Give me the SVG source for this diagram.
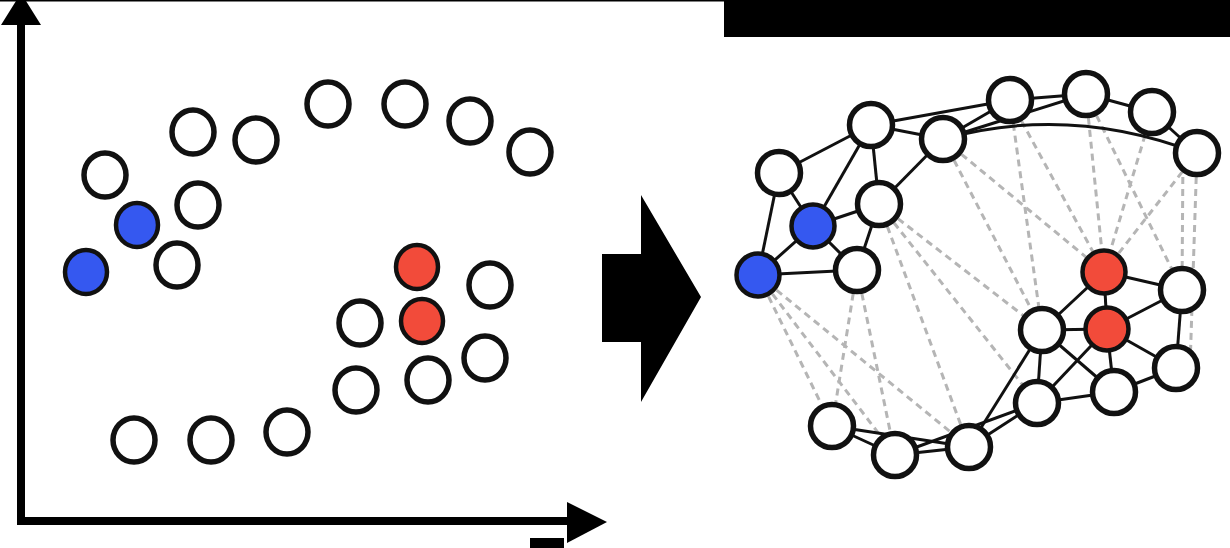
<svg xmlns="http://www.w3.org/2000/svg" width="1230" height="548" viewBox="0 0 1230 548">
<style>
.n{fill:#fff;stroke:#111;stroke-width:5.5}
.b{fill:#3558F0;stroke:#111;stroke-width:4.5}
.r{fill:#F24B3A;stroke:#111;stroke-width:4.5}
.e{stroke:#111;stroke-width:3;fill:none}
.d{stroke:#b5b5b5;stroke-width:3;stroke-dasharray:7 5;fill:none}
</style>
<rect width="1230" height="548" fill="#fff"/>
<line x1="0" y1="0.8" x2="724" y2="0.8" stroke="#000" stroke-width="1.6"/>
<rect x="724" y="0" width="506" height="37" fill="#000"/>
<rect x="530" y="538" width="34" height="10" fill="#000"/>
<g id="axes">
<line x1="21" y1="20" x2="21" y2="525" stroke="#000" stroke-width="8"/>
<line x1="17" y1="521" x2="572" y2="521" stroke="#000" stroke-width="8"/>
<polygon points="1,25 41,25 21,-7" fill="#000"/>
<polygon points="567,502 567,543 607,522" fill="#000"/>
</g>
<g id="scatter">
<g id="p1"><ellipse class="n" cx="105" cy="175" rx="21" ry="22"/></g>
<g id="p2"><ellipse class="n" cx="193" cy="132" rx="21" ry="22"/></g>
<g id="p3"><ellipse class="n" cx="256" cy="140" rx="21" ry="22"/></g>
<g id="p4"><ellipse class="n" cx="328" cy="104" rx="21" ry="22"/></g>
<g id="p5"><ellipse class="n" cx="405" cy="104" rx="21" ry="22"/></g>
<g id="p6"><ellipse class="n" cx="470" cy="121" rx="21" ry="22"/></g>
<g id="p7"><ellipse class="n" cx="530" cy="152" rx="21" ry="22"/></g>
<g id="p8"><ellipse class="n" cx="198" cy="205" rx="21" ry="22"/></g>
<g id="p9"><ellipse class="b" cx="137" cy="225" rx="21" ry="22"/></g>
<g id="p10"><ellipse class="b" cx="86" cy="272" rx="21" ry="22"/></g>
<g id="p11"><ellipse class="n" cx="177" cy="265" rx="21" ry="22"/></g>
<g id="p12"><ellipse class="r" cx="417" cy="267" rx="21" ry="22"/></g>
<g id="p13"><ellipse class="n" cx="490" cy="285" rx="21" ry="22"/></g>
<g id="p14"><ellipse class="n" cx="360" cy="323" rx="21" ry="22"/></g>
<g id="p15"><ellipse class="r" cx="422" cy="321" rx="21" ry="22"/></g>
<g id="p16"><ellipse class="n" cx="485" cy="358" rx="21" ry="22"/></g>
<g id="p17"><ellipse class="n" cx="356" cy="390" rx="21" ry="22"/></g>
<g id="p18"><ellipse class="n" cx="428" cy="380" rx="21" ry="22"/></g>
<g id="p19"><ellipse class="n" cx="134" cy="440" rx="21" ry="22"/></g>
<g id="p20"><ellipse class="n" cx="211" cy="440" rx="21" ry="22"/></g>
<g id="p21"><ellipse class="n" cx="287" cy="432" rx="21" ry="22"/></g>
</g>
<polygon id="bigarrow" points="602,254 641,254 641,195 701,297 641,402 641,342 602,342" fill="#000"/>
<g id="connectors">
<g id="dashed">
<line class="d" x1="943" y1="139" x2="1042" y2="330"/>
<line class="d" x1="943" y1="139" x2="1104" y2="272"/>
<line class="d" x1="1010" y1="100" x2="1042" y2="330"/>
<line class="d" x1="1010" y1="100" x2="1104" y2="272"/>
<line class="d" x1="1086" y1="94" x2="1104" y2="272"/>
<line class="d" x1="1086" y1="94" x2="1182" y2="290"/>
<line class="d" x1="1152" y1="112" x2="1104" y2="272"/>
<line class="d" x1="1197" y1="153" x2="1104" y2="272"/>
<line class="d" x1="1183" y1="153" x2="1182" y2="290"/>
<line class="d" x1="1197" y1="153" x2="1190" y2="368"/>
<line class="d" x1="879" y1="204" x2="1042" y2="330"/>
<line class="d" x1="879" y1="204" x2="1037" y2="403"/>
<line class="d" x1="879" y1="204" x2="969" y2="447"/>
<line class="d" x1="758" y1="275" x2="832" y2="426"/>
<line class="d" x1="758" y1="275" x2="895" y2="455"/>
<line class="d" x1="758" y1="275" x2="969" y2="447"/>
<line class="d" x1="857" y1="270" x2="832" y2="426"/>
<line class="d" x1="857" y1="270" x2="895" y2="455"/>
</g>
<g id="solid">
<line class="e" x1="779" y1="173" x2="871" y2="125"/>
<line class="e" x1="779" y1="173" x2="813" y2="226"/>
<line class="e" x1="779" y1="173" x2="758" y2="275"/>
<line class="e" x1="871" y1="125" x2="943" y2="139"/>
<line class="e" x1="871" y1="125" x2="1010" y2="100"/>
<line class="e" x1="871" y1="125" x2="813" y2="226"/>
<line class="e" x1="871" y1="125" x2="879" y2="204"/>
<line class="e" x1="943" y1="139" x2="1010" y2="100"/>
<line class="e" x1="943" y1="139" x2="1086" y2="94"/>
<line class="e" x1="943" y1="139" x2="879" y2="204"/>
<path class="e" d="M943,139 Q1070,104 1197,153"/>
<line class="e" x1="1010" y1="100" x2="1086" y2="94"/>
<line class="e" x1="1086" y1="94" x2="1152" y2="112"/>
<line class="e" x1="1152" y1="112" x2="1197" y2="153"/>
<line class="e" x1="813" y1="226" x2="879" y2="204"/>
<line class="e" x1="813" y1="226" x2="758" y2="275"/>
<line class="e" x1="813" y1="226" x2="857" y2="270"/>
<line class="e" x1="879" y1="204" x2="857" y2="270"/>
<line class="e" x1="758" y1="275" x2="857" y2="270"/>
<line class="e" x1="1104" y1="272" x2="1182" y2="290"/>
<line class="e" x1="1104" y1="272" x2="1042" y2="330"/>
<line class="e" x1="1104" y1="272" x2="1107" y2="329"/>
<line class="e" x1="1042" y1="330" x2="1107" y2="329"/>
<line class="e" x1="1107" y1="329" x2="1182" y2="290"/>
<line class="e" x1="1182" y1="290" x2="1176" y2="368"/>
<line class="e" x1="1107" y1="329" x2="1176" y2="368"/>
<line class="e" x1="1042" y1="330" x2="1037" y2="403"/>
<line class="e" x1="1042" y1="330" x2="1114" y2="392"/>
<line class="e" x1="1107" y1="329" x2="1037" y2="403"/>
<line class="e" x1="1107" y1="329" x2="1114" y2="392"/>
<line class="e" x1="1037" y1="403" x2="1114" y2="392"/>
<line class="e" x1="1114" y1="392" x2="1176" y2="368"/>
<line class="e" x1="1042" y1="330" x2="969" y2="447"/>
<line class="e" x1="895" y1="455" x2="1037" y2="403"/>
<line class="e" x1="969" y1="447" x2="1037" y2="403"/>
<line class="e" x1="895" y1="455" x2="969" y2="447"/>
<line class="e" x1="832" y1="426" x2="969" y2="447"/>
<line class="e" x1="832" y1="426" x2="895" y2="455"/>
</g>
</g>
<g id="graph">
<g id="nA"><circle class="n" cx="779" cy="173" r="21.5"/></g>
<g id="nB"><circle class="n" cx="871" cy="125" r="21.5"/></g>
<g id="nC"><circle class="n" cx="943" cy="139" r="21.5"/></g>
<g id="nD"><circle class="n" cx="1010" cy="100" r="21.5"/></g>
<g id="nE"><circle class="n" cx="1086" cy="94" r="21.5"/></g>
<g id="nF"><circle class="n" cx="1152" cy="112" r="21.5"/></g>
<g id="nG"><circle class="n" cx="1197" cy="153" r="21.5"/></g>
<g id="nH"><circle class="b" cx="813" cy="226" r="21.5"/></g>
<g id="nI"><circle class="n" cx="879" cy="204" r="21.5"/></g>
<g id="nJ"><circle class="b" cx="758" cy="275" r="21.5"/></g>
<g id="nK"><circle class="n" cx="857" cy="270" r="21.5"/></g>
<g id="nL"><circle class="r" cx="1104" cy="272" r="21.5"/></g>
<g id="nM"><circle class="n" cx="1182" cy="290" r="21.5"/></g>
<g id="nN"><circle class="n" cx="1042" cy="330" r="21.5"/></g>
<g id="nO"><circle class="r" cx="1107" cy="329" r="21.5"/></g>
<g id="nP"><circle class="n" cx="1176" cy="368" r="21.5"/></g>
<g id="nQ"><circle class="n" cx="1037" cy="403" r="21.5"/></g>
<g id="nR"><circle class="n" cx="1114" cy="392" r="21.5"/></g>
<g id="nS"><circle class="n" cx="832" cy="426" r="21.5"/></g>
<g id="nT"><circle class="n" cx="895" cy="455" r="21.5"/></g>
<g id="nU"><circle class="n" cx="969" cy="447" r="21.5"/></g>
</g>
</svg>
